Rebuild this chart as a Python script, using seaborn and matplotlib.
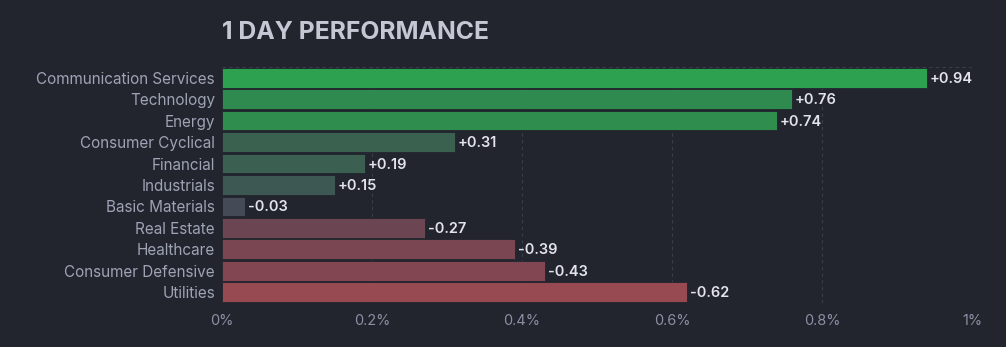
import matplotlib
matplotlib.use("Agg")
import matplotlib.pyplot as plt
import seaborn as sns
import pandas as pd
import numpy as np

sectors = ["Communication Services", "Technology", "Energy", "Consumer Cyclical",
           "Financial", "Industrials", "Basic Materials", "Real Estate",
           "Healthcare", "Consumer Defensive", "Utilities"]
changes = [0.94, 0.76, 0.74, 0.31, 0.19, 0.15, -0.03, -0.27, -0.39, -0.43, -0.62]
bar_colors = ["#2ea150", "#2f8a4f", "#2f8d4e", "#3a6150", "#3b5f51", "#3d5753",
              "#454a57", "#6b4551", "#7a4651", "#814651", "#984a52"]
xticks = [0, 0.2, 0.4, 0.6, 0.8, 1.0]
xtick_labels = ["0%", "0.2%", "0.4%", "0.6%", "0.8%", "1%"]

BG = "#22252e"
sns.set_theme(style="dark")
plt.rcParams['font.family'] = ['Inter', 'DejaVu Sans']

df = pd.DataFrame({"sector": sectors, "change": changes,
                   "abs": np.abs(changes)})

fig = plt.figure(figsize=(10.06, 3.47), dpi=100, facecolor=BG)
ax = fig.add_axes([0.2207, 0.127, 0.7455, 0.680])
ax.set_facecolor(BG)

sns.barplot(data=df, x="abs", y="sector", hue="sector", palette=bar_colors,
            legend=False, width=0.92, ax=ax, edgecolor=BG, linewidth=0.6,
            saturation=1)

ax.set_xlim(0, 1.0)
ax.set_ylim(len(sectors) - 0.5, -0.5)
ax.set_xticks(xticks)
ax.set_xticklabels(xtick_labels)
ax.set_xlabel("")
ax.set_ylabel("")
ax.tick_params(axis="x", colors="#8a8fa3", labelsize=10.5, length=0, pad=8)
ax.tick_params(axis="y", colors="#9ea3b5", labelsize=11, length=0, pad=5)

ax.grid(False)
for x in xticks[1:]:
    ax.axvline(x, color="#3a3e4a", linestyle=(0, (3, 3)), linewidth=0.8, zorder=0)
ax.axhline(-0.5, color="#3a3e4a", linestyle=(0, (3, 3)), linewidth=0.8, zorder=0)
ax.axhline(len(sectors) - 0.5, color="#3a3e4a", linestyle=(0, (3, 3)), linewidth=0.8, zorder=0)
for s in ax.spines.values():
    s.set_visible(False)

for i, v in enumerate(changes):
    lab = f"+{v:.2f}" if v > 0 else f"{v:.2f}"
    ax.text(abs(v) + 0.004, i + 0.05, lab, va="center", ha="left", color="#e2e4ea",
            fontsize=10.5, fontweight="semibold")

fig.text(0.2207, 0.905, "1 DAY PERFORMANCE", color="#c5c8d4", fontsize=17.8,
         fontweight="bold", ha="left", va="center")

fig.savefig("out.png", dpi=100, facecolor=BG)
